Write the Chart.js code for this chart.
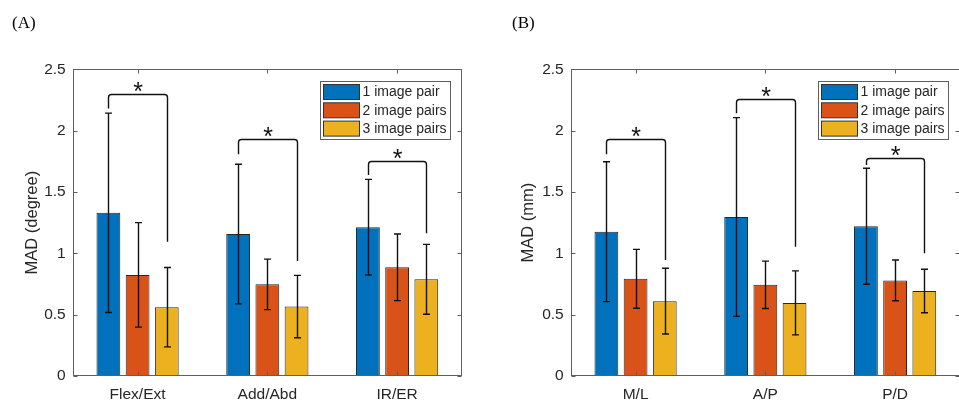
<!DOCTYPE html>
<html lang="pt-BR">
<head>
<meta charset="utf-8">
<title>MAD</title>
<script src="https://cdn.jsdelivr.net/npm/chart.js@4.4.1/dist/chart.umd.min.js"></script>
<style>
    html, body { margin: 0; padding: 0; background: #fff; overflow: hidden; }
    body { width: 959px; height: 402px; position: relative; }
    .painel { position: absolute; top: 0; width: 480px; height: 402px; }
    #painel-a { left: 0; }
    #painel-b { left: 480px; }
    .rotulo { position: absolute; top: 14px; font-family: "Liberation Serif", "Times New Roman", serif; font-size: 17px; line-height: 17px; color: #000; }
</style>
</head>
<body>
<div class="painel" id="painel-a"><canvas id="grafico-a" width="480" height="402"></canvas></div>
<div class="painel" id="painel-b"><canvas id="grafico-b" width="480" height="402"></canvas></div>
<div class="rotulo" style="left:12px">(A)</div>
<div class="rotulo" style="left:512px">(B)</div>

<script>
// ── Dados ──
const series = ["1 image pair", "2 image pairs", "3 image pairs"];
const cores  = ["#0072BD", "#D95319", "#EDB120"];
const ticksY = [0, 0.5, 1, 1.5, 2, 2.5];

// (A) rotação
const categoriasA = ["Flex/Ext", "Add/Abd", "IR/ER"];
const mediaUmA    = [1.33, 1.157, 1.213];
const mediaDoisA  = [0.824, 0.747, 0.886];
const mediaTresA  = [0.561, 0.566, 0.788];
const erroUmA     = [0.813, 0.569, 0.39];
const erroDoisA   = [0.426, 0.206, 0.272];
const erroTresA   = [0.324, 0.254, 0.285];
const chaveTopoA  = [2.298, 1.929, 1.752];
const chaveEsqA   = [2.18, 1.807, 1.638];
const chaveDirA   = [1.095, 0.937, 1.163];

// (B) translação
const categoriasB = ["M/L", "A/P", "P/D"];
const mediaUmB    = [1.176, 1.296, 1.221];
const mediaDoisB  = [0.792, 0.743, 0.779];
const mediaTresB  = [0.61, 0.596, 0.693];
const erroUmB     = [0.57, 0.81, 0.473];
const erroDoisB   = [0.24, 0.193, 0.166];
const erroTresB   = [0.268, 0.261, 0.177];
const chaveTopoB  = [1.932, 2.258, 1.779];
const chaveEsqB   = [1.807, 2.141, 1.72];
const chaveDirB   = [0.945, 1.054, 1.0];

const FONTE   = "'Liberation Sans', Arial, sans-serif";
const COR_TXT = "#262626";
const COR_EIXO = "#5f5f5f";

// ── Moldura e ticks internos (estilo MATLAB) ──
const pluginMoldura = {
    id: "moldura",
    afterDatasetsDraw(chart) {
        const { ctx, chartArea: a, scales: { x, y } } = chart;
        const l = Math.round(a.left) + 0.5, r = Math.round(a.right) - 0.5;
        const t = Math.round(a.top) + 0.5,  b = Math.round(a.bottom) - 0.5;
        ctx.save();
        ctx.strokeStyle = COR_EIXO;
        ctx.lineWidth = 1;
        ctx.beginPath();
        y.ticks.forEach((tk, i) => {
            const py = Math.round(y.getPixelForTick(i)) + 0.5;
            ctx.moveTo(l, py); ctx.lineTo(l + 4, py);
            ctx.moveTo(r, py); ctx.lineTo(r - 4, py);
        });
        x.ticks.forEach((tk, i) => {
            const px = Math.round(x.getPixelForTick(i)) + 0.5;
            ctx.moveTo(px, t); ctx.lineTo(px, t + 4);
            ctx.moveTo(px, b); ctx.lineTo(px, b - 4);
        });
        ctx.stroke();
        ctx.strokeRect(l, t, r - l, b - t);
        ctx.restore();
    }
};

// ── Barras de erro ──
const pluginErro = {
    id: "barrasErro",
    afterDatasetsDraw(chart) {
        const { ctx, scales: { y } } = chart;
        ctx.save();
        ctx.strokeStyle = "#111";
        ctx.lineWidth = 1.4;
        chart.data.datasets.forEach((ds, i) => {
            const meta = chart.getDatasetMeta(i);
            meta.data.forEach((barra, j) => {
                const v = ds.data[j], e = ds.erro[j];
                const x  = Math.round(barra.x) + 0.5;
                const y1 = y.getPixelForValue(v + e);
                const y2 = y.getPixelForValue(v - e);
                ctx.beginPath();
                ctx.moveTo(x, y1); ctx.lineTo(x, y2);
                ctx.moveTo(x - 3.5, y1); ctx.lineTo(x + 3.5, y1);
                ctx.moveTo(x - 3.5, y2); ctx.lineTo(x + 3.5, y2);
                ctx.stroke();
            });
        });
        ctx.restore();
    }
};

// ── Chaves de significância ──
const pluginChaves = {
    id: "chaves",
    afterDatasetsDraw(chart, args, opts) {
        const { ctx, scales: { y } } = chart;
        const m0 = chart.getDatasetMeta(0), m2 = chart.getDatasetMeta(2);
        const raio = 3;
        ctx.save();
        ctx.strokeStyle = "#111";
        ctx.lineWidth = 1.4;
        opts.topo.forEach((topo, j) => {
            const xl = Math.round(m0.data[j].x) + 0.5;
            const xr = Math.round(m2.data[j].x) + 0.5;
            const yt = Math.round(y.getPixelForValue(topo)) + 0.5;
            ctx.beginPath();
            ctx.moveTo(xl, y.getPixelForValue(opts.esq[j]));
            ctx.lineTo(xl, yt + raio);
            ctx.arcTo(xl, yt, xl + raio, yt, raio);
            ctx.lineTo(xr - raio, yt);
            ctx.arcTo(xr, yt, xr, yt + raio, raio);
            ctx.lineTo(xr, y.getPixelForValue(opts.dir[j]));
            ctx.stroke();

            ctx.fillStyle = "#111";
            ctx.font = "25px " + FONTE;
            ctx.textAlign = "center";
            ctx.textBaseline = "alphabetic";
            const mt = ctx.measureText("*");
            const cy = yt - 8;
            const base = cy + (mt.actualBoundingBoxAscent - mt.actualBoundingBoxDescent) / 2;
            ctx.fillText("*", (xl + xr) / 2, base);
        });
        ctx.restore();
    }
};

// ── Legenda em caixa ──
const pluginLegenda = {
    id: "legendaCaixa",
    afterDraw(chart) {
        const { ctx, chartArea: a } = chart;
        const larg = 130, alt = 58;
        const x0 = Math.round(a.right - 12 - larg) + 0.5;
        const y0 = Math.round(a.top + 12) + 0.5;
        ctx.save();
        ctx.fillStyle = "#fff";
        ctx.fillRect(x0, y0, larg, alt);
        ctx.strokeStyle = COR_EIXO;
        ctx.lineWidth = 1;
        ctx.strokeRect(x0, y0, larg, alt);
        ctx.font = "14px " + FONTE;
        ctx.textAlign = "left";
        ctx.textBaseline = "middle";
        chart.data.datasets.forEach((ds, i) => {
            const ys = y0 + 3 + i * 18.3;
            ctx.fillStyle = ds.backgroundColor;
            ctx.fillRect(x0 + 3, ys, 36, 15);
            ctx.strokeStyle = "#333";
            ctx.strokeRect(x0 + 3, ys, 36, 15);
            ctx.fillStyle = COR_TXT;
            ctx.fillText(ds.label, x0 + 42, ys + 8);
        });
        ctx.restore();
    }
};

function criarGrafico(canvas, categorias, medias, erros, chaves, tituloY, largEixoY, padTitulo, padDireita) {
    return new Chart(canvas, {
        type: "bar",
        data: {
            labels: categorias,
            datasets: medias.map((m, i) => ({
                label: series[i],
                data: m,
                erro: erros[i],
                backgroundColor: cores[i],
                borderColor: "#262626",
                borderWidth: 1,
                borderSkipped: false,
                categoryPercentage: 0.675,
                barPercentage: 0.815,
            }))
        },
        options: {
            responsive: false,
            animation: false,
            devicePixelRatio: 1,
            layout: { padding: { top: 69.3, right: padDireita, left: 0, bottom: 0 } },
            plugins: {
                legend: { display: false },
                tooltip: { enabled: false },
                chaves: chaves,
            },
            scales: {
                x: {
                    grid: { display: false, drawTicks: false },
                    border: { display: false },
                    ticks: { color: COR_TXT, font: { family: FONTE, size: 15.5 }, padding: 9 },
                    afterFit: s => { s.height = 26; },
                },
                y: {
                    min: 0,
                    max: 2.5,
                    grid: { display: false, drawTicks: false },
                    border: { display: false },
                    afterBuildTicks: s => { s.ticks = ticksY.map(v => ({ value: v })); },
                    ticks: { color: COR_TXT, font: { family: FONTE, size: 15.5 }, padding: 7, callback: v => String(v) },
                    title: { display: true, text: tituloY, color: COR_TXT, font: { family: FONTE, size: 16.5 }, padding: { top: padTitulo, bottom: 0 } },
                    afterFit: s => { s.width = largEixoY; },
                }
            }
        },
        plugins: [pluginErro, pluginChaves, pluginMoldura, pluginLegenda]
    });
}

criarGrafico(
    document.getElementById("grafico-a"), categoriasA,
    [mediaUmA, mediaDoisA, mediaTresA], [erroUmA, erroDoisA, erroTresA],
    { topo: chaveTopoA, esq: chaveEsqA, dir: chaveDirA },
    "MAD (degree)", 72.7, 22.1, 18
);

criarGrafico(
    document.getElementById("grafico-b"), categoriasB,
    [mediaUmB, mediaDoisB, mediaTresB], [erroUmB, erroDoisB, erroTresB],
    { topo: chaveTopoB, esq: chaveEsqB, dir: chaveDirB },
    "MAD (mm)", 90.7, 38.4, 0
);
</script>
</body>
</html>
